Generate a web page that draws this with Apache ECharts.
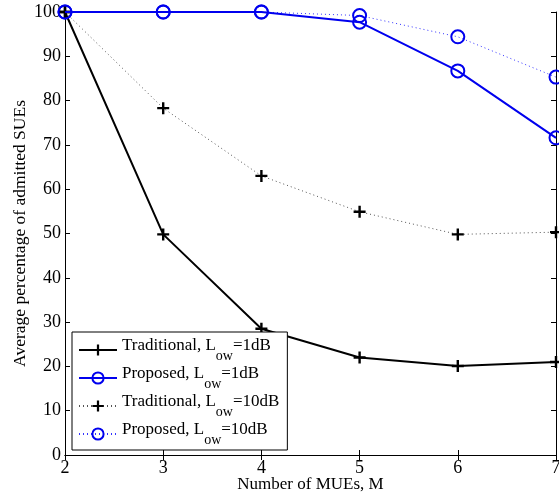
<!DOCTYPE html>
<html>
<head>
<meta charset="utf-8">
<script src="https://cdn.jsdelivr.net/npm/echarts@6/dist/echarts.min.js"></script>
<style>html,body{margin:0;padding:0;background:#fff}#c{width:559px;height:493px}</style>
</head>
<body>
<div id="c"></div>
<script>
const mues = [2, 3, 4, 5, 6, 7];
const traditional1 = [100, 49.8, 28.5, 22.0, 20.1, 21.0];
const proposed1 = [100, 100, 100, 97.7, 86.7, 71.6];
const traditional10 = [100, 78.3, 63.0, 54.9, 49.8, 50.3];
const proposed10 = [100, 100, 100, 99.2, 94.4, 85.3];
const seriesNames = ['Traditional, Low=1dB', 'Proposed, Low=1dB', 'Traditional, Low=10dB', 'Proposed, Low=10dB'];
const yTicks = [0, 10, 20, 30, 40, 50, 60, 70, 80, 90, 100];

const FONT = 'Liberation Serif';
const plus = 'path://M4,0h2v4h4v2h-4v4h-2v-4h-4v-2h4z';
const pairs = arr => mues.map((m, i) => [m, arr[i]]);

const chart = echarts.init(document.getElementById('c'));
const axisBase = {
  axisLine: {show: true, lineStyle: {color: '#000', width: 1}},
  axisTick: {show: true, inside: true, length: 5, lineStyle: {color: '#000'}},
  splitLine: {show: false}
};
chart.setOption({
  animation: false,
  backgroundColor: '#fff',
  textStyle: {fontFamily: FONT},
  grid: {left: 65, right: 3, top: 12, bottom: 38, containLabel: false, outerBoundsMode: 'none'},
  xAxis: [
    Object.assign({type: 'value', min: 2, max: 7, interval: 1,
      name: 'Number of MUEs, M', nameLocation: 'middle', nameGap: 21, nameMoveOverlap: false,
      nameTextStyle: {fontFamily: FONT, fontSize: 17, color: '#000'},
      axisLabel: {fontFamily: FONT, fontSize: 18, color: '#000', margin: 4}}, axisBase),
    Object.assign({type: 'value', min: 2, max: 7, interval: 1, position: 'top',
      axisLabel: {show: false}}, axisBase)
  ],
  yAxis: [
    Object.assign({type: 'value', min: yTicks[0], max: yTicks[yTicks.length - 1], interval: 10,
      name: 'Average percentage of admitted SUEs', nameLocation: 'middle', nameGap: 36, nameMoveOverlap: false,
      nameTextStyle: {fontFamily: FONT, fontSize: 17.5, color: '#000'},
      axisLabel: {fontFamily: FONT, fontSize: 18, color: '#000', margin: 4}}, axisBase),
    Object.assign({type: 'value', min: 0, max: 100, interval: 10, position: 'right',
      axisLabel: {show: false}}, axisBase)
  ],
  legend: {
    orient: 'vertical', left: 72, top: 332, width: 215,
    backgroundColor: '#fff', borderColor: '#000', borderWidth: 1,
    padding: [5, 8, 3, 6], itemGap: 2, itemWidth: 38, itemHeight: 14,
    data: seriesNames,
    formatter: function (name) {
      const m = name.match(/^(.*), Low=(.*)$/);
      return '{a|' + m[1] + ', L}{s|ow}{a|=' + m[2] + '}';
    },
    textStyle: {
      fontFamily: FONT, fontSize: 17, color: '#000',
      rich: {
        a: {fontFamily: FONT, fontSize: 17, color: '#000', verticalAlign: 'top', lineHeight: 17},
        s: {fontFamily: FONT, fontSize: 14, color: '#000', verticalAlign: 'bottom', lineHeight: 26}
      }
    }
  },
  series: [
    {name: seriesNames[0], type: 'line', data: pairs(traditional1), symbol: plus, symbolSize: 12,
      itemStyle: {color: '#000'}, lineStyle: {color: '#000', width: 2}, z: 3},
    {name: seriesNames[1], type: 'line', data: pairs(proposed1), symbol: 'circle', symbolSize: 13,
      itemStyle: {color: 'rgba(0,0,0,0)', borderColor: '#0000ee', borderWidth: 2}, lineStyle: {color: '#0000ee', width: 2}, z: 4},
    {name: seriesNames[2], type: 'line', data: pairs(traditional10), symbol: plus, symbolSize: 12,
      itemStyle: {color: '#000'}, lineStyle: {color: '#555', width: 1, type: [1, 3]}, z: 2},
    {name: seriesNames[3], type: 'line', data: pairs(proposed10), symbol: 'circle', symbolSize: 13,
      itemStyle: {color: 'rgba(0,0,0,0)', borderColor: '#0000ee', borderWidth: 2}, lineStyle: {color: '#3333ff', width: 1, type: [1, 3]}, z: 2}
  ]
});
</script>
</body>
</html>
